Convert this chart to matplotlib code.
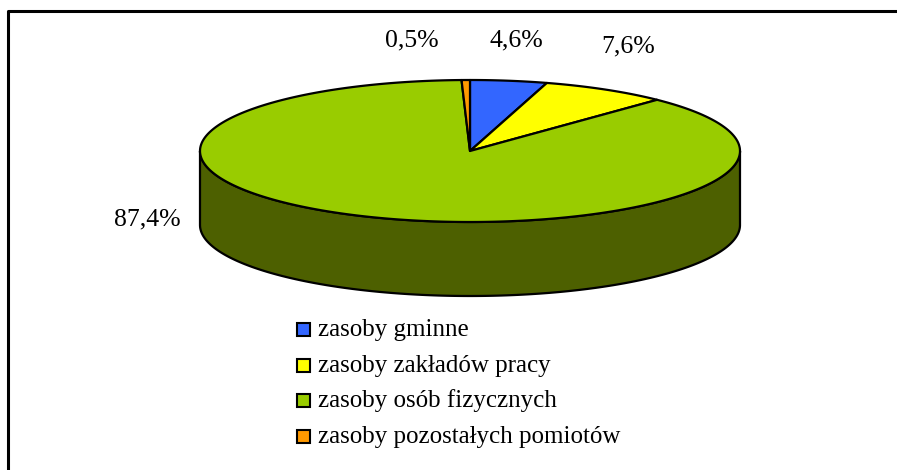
import matplotlib.pyplot as plt
import numpy as np
from matplotlib.patches import Polygon

# data
labels = ["zasoby gminne", "zasoby zakładów pracy",
          "zasoby osób fizycznych", "zasoby pozostałych pomiotów"]
values = [4.6, 7.6, 87.4, 0.5]
pct_text = ["4,6%", "7,6%", "87,4%", "0,5%"]
top_colors = ["#3366ff", "#ffff00", "#99cc00", "#ff9900"]
side_colors = ["#1a3380", "#808000", "#4d6000", "#804c00"]

W, H = 897, 470
fig = plt.figure(figsize=(W / 100, H / 100), dpi=100)
ax = fig.add_axes([0, 0, 1, 1])
ax.set_xlim(0, W)
ax.set_ylim(H, 0)
ax.axis("off")

FONT = "Liberation Serif"

# frame (only top and left visible)
ax.plot([8, 8, W + 5], [H + 5, 11, 11], color="black", lw=2.2, solid_capstyle="butt")

cx, cy = 470, 151
rx, ry = 270, 71
depth = 74


def pt(a, dy=0):
    r = np.radians(a)
    return cx + rx * np.cos(r), cy - ry * np.sin(r) + dy


# slice angles, start at top going clockwise
total = sum(values)
bounds = [90.0]
for v in values:
    bounds.append(bounds[-1] - v / total * 360)

# sides (front half, angles 180..360 i.e. -180..0)
for i in range(len(values)):
    a0, a1 = bounds[i], bounds[i + 1]  # a0 > a1
    for shift in (0, -360, 360):
        hi, lo = a0 + shift, a1 + shift
        s_hi, s_lo = min(hi, 0), max(lo, -180)
        if s_hi <= s_lo:
            continue
        ang = np.linspace(s_hi, s_lo, 200)
        top = [pt(a) for a in ang]
        bot = [pt(a, depth) for a in ang[::-1]]
        ax.add_patch(Polygon(top + bot, closed=True, facecolor=side_colors[i],
                             edgecolor="black", lw=1.6, zorder=2, joinstyle="round"))

# top faces
for i in range(len(values)):
    a0, a1 = bounds[i], bounds[i + 1]
    ang = np.linspace(a0, a1, 300)
    poly = [(cx, cy)] + [pt(a) for a in ang]
    ax.add_patch(Polygon(poly, closed=True, facecolor=top_colors[i],
                         edgecolor="black", lw=1.6, zorder=3, joinstyle="round"))

# percentage labels
label_pos = [(516, 40), (628, 46), (147, 219), (412, 40)]
for (x, y), t in zip(label_pos, pct_text):
    ax.text(x, y, t, fontsize=18.5, family=FONT, ha="center", va="center", zorder=5)

# legend
leg_y = [330, 366, 401, 437]
for y, lab, c in zip(leg_y, labels, top_colors):
    ax.add_patch(plt.Rectangle((297, y - 7), 13, 13, facecolor=c,
                               edgecolor="black", lw=1.5, zorder=5))
    ax.text(318, y, lab, fontsize=18, family=FONT, ha="left", va="center", zorder=5)

fig.savefig("out.png", dpi=100)
